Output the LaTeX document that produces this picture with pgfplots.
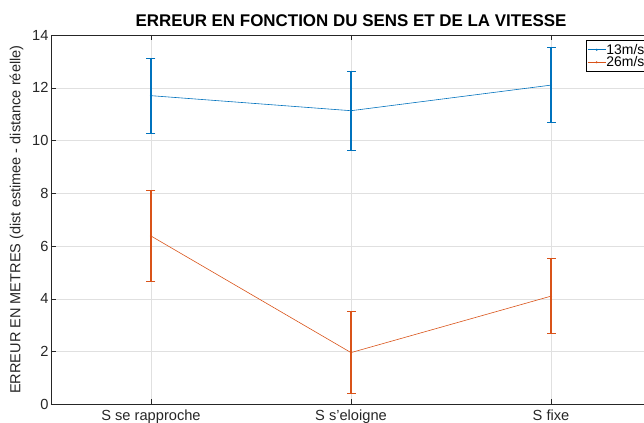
\documentclass[border=0pt]{standalone}
\usepackage{pgfplots}
\pgfplotsset{compat=1.18}
\usepackage{fontspec}
\setmainfont{Liberation Sans}
\definecolor{mblue}{rgb}{0,0.447,0.741}
\definecolor{morange}{rgb}{0.85,0.325,0.098}
\definecolor{axgray}{gray}{0.15}
\definecolor{gridgray}{gray}{0.88}
\begin{document}
\begin{tikzpicture}
\begin{scope}
\clip (-51bp,-18.7bp) rectangle (593bp,404.3bp);
\begin{axis}[
  at={(0,0)}, anchor=south west,
  scale only axis,
  width=600bp, height=369.3bp,
  xmin=0.5, xmax=3.5, ymin=0, ymax=14,
  xtick={1,2,3},
  xticklabels={S se rapproche, S s'eloigne, S fixe},
  ytick={0,2,...,14},
  tick align=inside,
  xtick pos=both, ytick pos=both,
  major tick length=5bp,
  axis line style={axgray, line width=0.5pt},
  tick style={axgray, line width=0.5pt},
  xmajorgrids, ymajorgrids,
  major grid style={gridgray, line width=0.5pt},
  /pgf/number format/assume math mode=true,
  tick label style={font=\fontsize{14.7}{16}\selectfont, text=axgray},
  xticklabel style={yshift=-2bp},
  yticklabel style={xshift=1bp},
  title={ERREUR EN FONCTION DU SENS ET DE LA VITESSE},
  title style={font=\bfseries\fontsize{17}{19}\selectfont, yshift=-1bp},
  ylabel={ERREUR EN METRES (dist estimee - distance réelle)},
  ylabel style={font=\fontsize{14.6}{16}\selectfont, text=axgray, yshift=2bp},
  legend style={at={(rel axis cs:0.992,0.986)}, anchor=north east,
    font=\fontsize{14}{14}\selectfont, draw=black, line width=0.5pt,
    inner xsep=1pt, inner ysep=1.5pt, row sep=-3pt, fill=white,
    nodes={inner xsep=0.5pt}},
  legend cell align=left,
  legend image code/.code={\draw[mark repeat=2, mark phase=2, #1] plot coordinates {(0bp,0bp) (9bp,0bp) (18bp,0bp)};},
  ebar/.style={line width=1.1pt, mark=-, mark size=4.5bp, mark options={solid, line width=0.8pt}, forget plot},
]
% error bars (mean +- error)
\addplot[draw=mblue, color=mblue, ebar] coordinates {(1,10.28) (1,13.12)};
\addplot[draw=mblue, color=mblue, ebar] coordinates {(2,9.64) (2,12.62)};
\addplot[draw=mblue, color=mblue, ebar] coordinates {(3,10.67) (3,13.53)};
\addplot[draw=morange, color=morange, ebar] coordinates {(1,4.66) (1,8.10)};
\addplot[draw=morange, color=morange, ebar] coordinates {(2,0.41) (2,3.51)};
\addplot[draw=morange, color=morange, ebar] coordinates {(3,2.67) (3,5.53)};
% mean values
\addplot[mblue, line width=0.6pt, mark=*, mark size=0.7pt] coordinates {
  (1,11.70) (2,11.13) (3,12.10)
};
\addlegendentry{13m/s}
\addplot[morange, line width=0.6pt, mark=*, mark size=0.7pt] coordinates {
  (1,6.38) (2,1.96) (3,4.10)
};
\addlegendentry{26m/s}
\end{axis}
\end{scope}
\pgfresetboundingbox
\path[use as bounding box] (-51bp,-18.7bp) rectangle (593bp,404.3bp);
\end{tikzpicture}
\end{document}
